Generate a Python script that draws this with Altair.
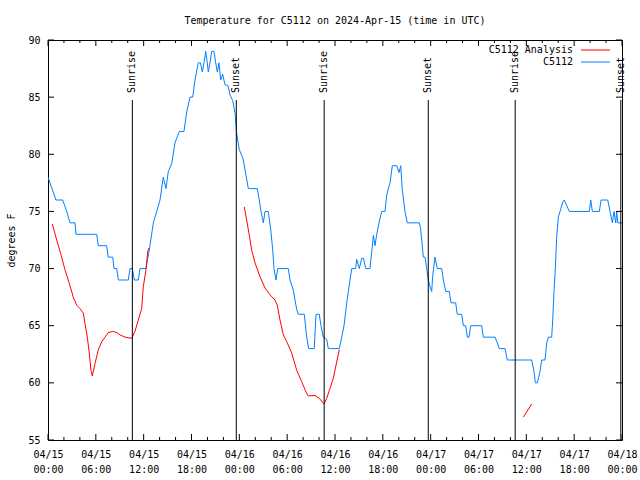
import json
import altair as alt
import pandas as pd

# ---------------- data (hours since 2024-04-15 00:00 UTC, degrees F) ----------------
obs_hours = [0.0, 0.5, 1.0, 1.84, 2.35, 2.76, 3.39, 3.51, 6.11, 6.31, 7.36, 7.56, 8.12, 8.28,
             8.62, 8.82, 10.07, 10.29, 10.57, 10.83, 11.33, 11.54, 12.29, 12.79, 13.21, 13.64,
             14.05, 14.46, 14.80, 15.09, 15.52, 15.93, 16.47, 17.06, 17.40, 17.81, 18.15, 18.44,
             18.85, 19.13, 19.36, 19.57, 19.78, 19.98, 20.11, 20.32, 20.53, 20.82, 21.04, 21.24,
             21.45, 21.66, 21.91, 22.20, 22.58, 22.83, 23.17, 23.46, 23.67, 24.00, 24.30, 24.50,
             24.80, 25.13, 26.25, 26.50, 26.72, 27.01, 27.22, 27.63, 27.94, 28.19, 28.35, 28.60,
             28.81, 30.14, 30.36, 30.77, 31.20, 31.40, 32.15, 32.45, 32.70, 33.40, 33.62, 34.03,
             34.24, 34.53, 34.96, 35.16, 36.54, 36.84, 37.13, 37.47, 37.88, 38.10, 38.60, 38.72,
             39.05, 39.35, 39.58, 39.85, 40.39, 40.61, 40.81, 41.02, 41.23, 41.65, 41.86, 42.27,
             42.48, 42.69, 42.90, 43.19, 43.74, 44.03, 44.24, 44.44, 44.78, 45.07, 46.58, 46.75,
             46.88, 47.08, 47.29, 47.50, 47.70, 47.92, 48.13, 48.25, 48.54, 48.83, 49.39, 49.59,
             49.89, 50.34, 50.55, 51.14, 51.34, 51.89, 52.10, 52.40, 52.60, 52.81, 53.02, 54.40,
             54.60, 56.07, 56.36, 56.61, 57.33, 57.61, 60.67, 60.96, 61.13, 61.38, 61.72, 61.93,
             62.34, 62.56, 62.76, 63.18, 63.31, 63.47, 63.64, 63.81, 64.01, 64.23, 64.56, 64.76,
             65.07, 65.39, 67.90, 68.08, 68.28, 69.16, 69.37, 70.21, 70.50, 70.79, 71.00, 71.21,
             71.34, 71.46, 71.75, 72.0]
obs_temps = [78.0, 77.0, 76.0, 76.0, 75.0, 74.0, 74.0, 73.0, 73.0, 72.0, 72.0, 71.0, 71.0, 70.0,
             70.0, 69.0, 69.0, 70.0, 70.0, 69.0, 69.0, 70.0, 70.0, 72.0, 74.0, 75.0,
             76.0, 78.0, 77.0, 78.5, 79.2, 81.0, 82.0, 82.0, 83.7, 85.0, 85.0, 86.5,
             88.0, 88.0, 87.2, 88.0, 89.0, 88.0, 87.2, 88.0, 89.0, 89.0, 88.0, 87.2,
             88.0, 86.5, 87.0, 86.1, 86.0, 85.2, 84.7, 83.6, 81.8, 80.4, 79.9, 79.5,
             78.3, 77.0, 77.0, 76.0, 75.0, 74.0, 75.0, 75.0, 73.4, 71.6, 70.0, 69.0,
             70.0, 70.0, 69.0, 68.1, 66.4, 66.0, 66.0, 64.0, 63.0, 63.0, 66.0, 66.0,
             65.0, 64.0, 63.8, 63.0, 63.0, 64.0, 65.0, 67.0, 69.0, 70.0, 70.0, 70.8,
             70.0, 70.9, 70.9, 70.0, 70.0, 71.5, 72.9, 72.0, 73.0, 74.4, 75.0, 75.0,
             76.4, 77.0, 77.5, 79.0, 79.0, 78.4, 79.0, 76.9, 75.0, 74.0, 74.0, 73.4,
             72.5, 71.0, 71.0, 70.0, 69.0, 68.4, 68.0, 69.3, 71.0, 70.0, 70.0, 69.0,
             68.0, 68.0, 67.0, 67.0, 66.0, 66.0, 65.0, 65.0, 64.0, 64.0, 65.0, 65.0,
             64.0, 64.0, 63.5, 63.0, 63.0, 62.0, 62.0, 61.0, 60.0, 60.0, 61.0, 62.0,
             62.0, 63.5, 64.0, 64.0, 65.5, 68.0, 70.0, 72.8, 74.5, 75.0, 75.8, 76.0,
             75.5, 75.0, 75.0, 76.0, 75.0, 75.0, 76.0, 76.0, 75.0, 74.0, 75.0, 74.0,
             75.0, 74.0, 74.0, 74.0]

ana1_hours = [0.54, 1.09, 1.59, 2.13, 2.67, 3.17, 3.60, 4.01, 4.43, 4.64, 4.93, 5.18, 5.39, 5.56,
              5.90, 6.31, 6.74, 7.15, 7.56, 8.12, 8.62, 9.03, 9.66, 10.50, 10.91, 11.33, 11.75,
              11.95, 12.29, 12.51, 12.67]
ana1_temps = [73.9, 72.5, 71.3, 69.9, 68.7, 67.5, 66.8, 66.5, 66.1, 65.2, 64.0, 62.6, 61.1, 60.6,
              61.7, 62.9, 63.6, 64.0, 64.4, 64.5, 64.4, 64.2, 64.0, 63.9, 64.5, 65.5, 66.5,
              68.4, 69.9, 71.5, 71.8]
ana2_hours = [24.62, 24.92, 25.25, 25.55, 25.97, 26.59, 27.22, 27.85, 28.47, 28.76, 29.10, 29.52,
              30.02, 30.57, 31.20, 31.82, 32.36, 32.65, 33.49, 34.03, 34.62, 34.96, 35.37, 35.79,
              36.13, 36.54]
ana2_temps = [75.4, 74.25, 72.9, 71.6, 70.5, 69.3, 68.3, 67.7, 67.25, 66.8, 65.5, 64.2,
              63.5, 62.6, 61.1, 60.1, 59.2, 58.85, 58.9, 58.65, 58.15, 58.65, 59.5, 60.4,
              61.55, 62.9]
ana3_hours = [59.62, 60.67]
ana3_temps = [57.0, 58.15]

sun_hours = [10.58, 23.62, 34.64, 47.70, 58.60, 71.85]
sun_labels = ["Sunrise", "Sunset", "Sunrise", "Sunset", "Sunrise", "Sunset"]

x_major = list(range(0, 73, 6))
x_minor = [h for h in range(0, 73, 2) if h % 6 != 0]
x_label_day = ["04/15", "04/15", "04/15", "04/15", "04/16", "04/16", "04/16", "04/16",
               "04/17", "04/17", "04/17", "04/17", "04/18"]
x_label_time = ["00:00", "06:00", "12:00", "18:00", "00:00", "06:00", "12:00", "18:00",
                "00:00", "06:00", "12:00", "18:00", "00:00"]
y_ticks = [55, 60, 65, 70, 75, 80, 85, 90]

legend_names = ["C5112 Analysis", "C5112"]
title_text = "Temperature for C5112 on 2024-Apr-15 (time in UTC)"
y_title = "degrees F"

# ---------------- styling ----------------
FONT = "DejaVu Sans Mono"
FS = 10
W, H = 574, 400
BLUE = "#0080ff"
RED = "#ff0000"

obs_df = pd.DataFrame({"h": obs_hours, "t": obs_temps})
ana_df = pd.concat([
    pd.DataFrame({"h": ana1_hours, "t": ana1_temps, "seg": 1}),
    pd.DataFrame({"h": ana2_hours, "t": ana2_temps, "seg": 2}),
    pd.DataFrame({"h": ana3_hours, "t": ana3_temps, "seg": 3}),
], ignore_index=True)
sun_df = pd.DataFrame({"h": sun_hours, "label": sun_labels})
xmaj_df = pd.DataFrame({"h": x_major})
xmin_df = pd.DataFrame({"h": x_minor})
ytk_df = pd.DataFrame({"t": y_ticks})

xs = alt.Scale(domain=[0, 72], nice=False, zero=False)
ys = alt.Scale(domain=[55, 90], nice=False, zero=False)

label_expr = ("[" + json.dumps(x_label_day) + "[round(datum.value / 6)], "
              + json.dumps(x_label_time) + "[round(datum.value / 6)]]")

x_axis = alt.Axis(values=x_major, labelExpr=label_expr, ticks=False, domain=False, grid=False,
                  labelFont=FONT, labelFontSize=FS, labelColor="black", labelPadding=9,
                  labelLineHeight=15, labelBaseline="top", labelAngle=0, title=None,
                  labelOverlap=False, labelFlush=False)
y_axis = alt.Axis(values=y_ticks, ticks=False, domain=False, grid=False,
                  labelFont=FONT, labelFontSize=FS, labelColor="black", labelPadding=8,
                  title=y_title, titleFont=FONT, titleFontSize=FS, titleFontWeight="normal",
                  titleColor="black", titleX=-37, titleY=H / 2, titleAngle=270,
                  titleAlign="center", titleBaseline="middle")

xe = lambda: alt.X("h:Q", scale=xs, axis=x_axis)
ye = lambda: alt.Y("t:Q", scale=ys, axis=y_axis)

obs_line = alt.Chart(obs_df).mark_line(color=BLUE, strokeWidth=1, clip=True).encode(
    x=xe(), y=ye(),
)
ana_line = alt.Chart(ana_df).mark_line(color=RED, strokeWidth=1, clip=True).encode(
    x=xe(), y=ye(), detail="seg:N"
)
sun_rules = alt.Chart(sun_df).mark_rule(color="black", strokeWidth=1).encode(
    x=xe(), y=alt.value(60), y2=alt.value(H)
)
sun_text = alt.Chart(sun_df).mark_text(angle=270, align="left", baseline="middle",
                                       font=FONT, fontSize=FS, color="black").encode(
    x=xe(), y=alt.value(53), text="label:N"
)

tick_bot_maj = alt.Chart(xmaj_df).mark_rule(color="black").encode(
    x=xe(), y=alt.value(H), y2=alt.value(H - 6))
tick_top_maj = alt.Chart(xmaj_df).mark_rule(color="black").encode(
    x=xe(), y=alt.value(0), y2=alt.value(6))
tick_bot_min = alt.Chart(xmin_df).mark_rule(color="black").encode(
    x=xe(), y=alt.value(H), y2=alt.value(H - 3))
tick_top_min = alt.Chart(xmin_df).mark_rule(color="black").encode(
    x=xe(), y=alt.value(0), y2=alt.value(3))
tick_left = alt.Chart(ytk_df).mark_rule(color="black").encode(
    y=ye(), x=alt.value(0), x2=alt.value(6))
tick_right = alt.Chart(ytk_df).mark_rule(color="black").encode(
    y=ye(), x=alt.value(W - 6), x2=alt.value(W))

leg1_text = alt.Chart(pd.DataFrame({"n": [legend_names[0]]})).mark_text(
    align="right", baseline="middle", font=FONT, fontSize=FS, color="black").encode(
    x=alt.value(525), y=alt.value(10), text="n:N")
leg2_text = alt.Chart(pd.DataFrame({"n": [legend_names[1]]})).mark_text(
    align="right", baseline="middle", font=FONT, fontSize=FS, color="black").encode(
    x=alt.value(525), y=alt.value(22), text="n:N")
leg1_line = alt.Chart(pd.DataFrame({"n": [legend_names[0]]})).mark_rule(color=RED).encode(
    x=alt.value(533), x2=alt.value(562), y=alt.value(10))
leg2_line = alt.Chart(pd.DataFrame({"n": [legend_names[1]]})).mark_rule(color=BLUE).encode(
    x=alt.value(533), x2=alt.value(562), y=alt.value(22))

chart = alt.layer(
    obs_line, ana_line, sun_rules, sun_text,
    tick_bot_maj, tick_top_maj, tick_bot_min, tick_top_min, tick_left, tick_right,
    leg1_text, leg2_text, leg1_line, leg2_line,
).properties(
    width=W, height=H,
    title=alt.TitleParams(title_text, font=FONT, fontSize=FS, fontWeight="normal",
                          color="black", anchor="middle", offset=9),
    autosize=alt.AutoSizeParams(type="none"),
    padding={"left": 48, "top": 40, "right": 18, "bottom": 40},
    background="white",
).configure_view(stroke="black", strokeWidth=1)

chart.save("out.html", embed_options={"renderer": "svg", "actions": False})
